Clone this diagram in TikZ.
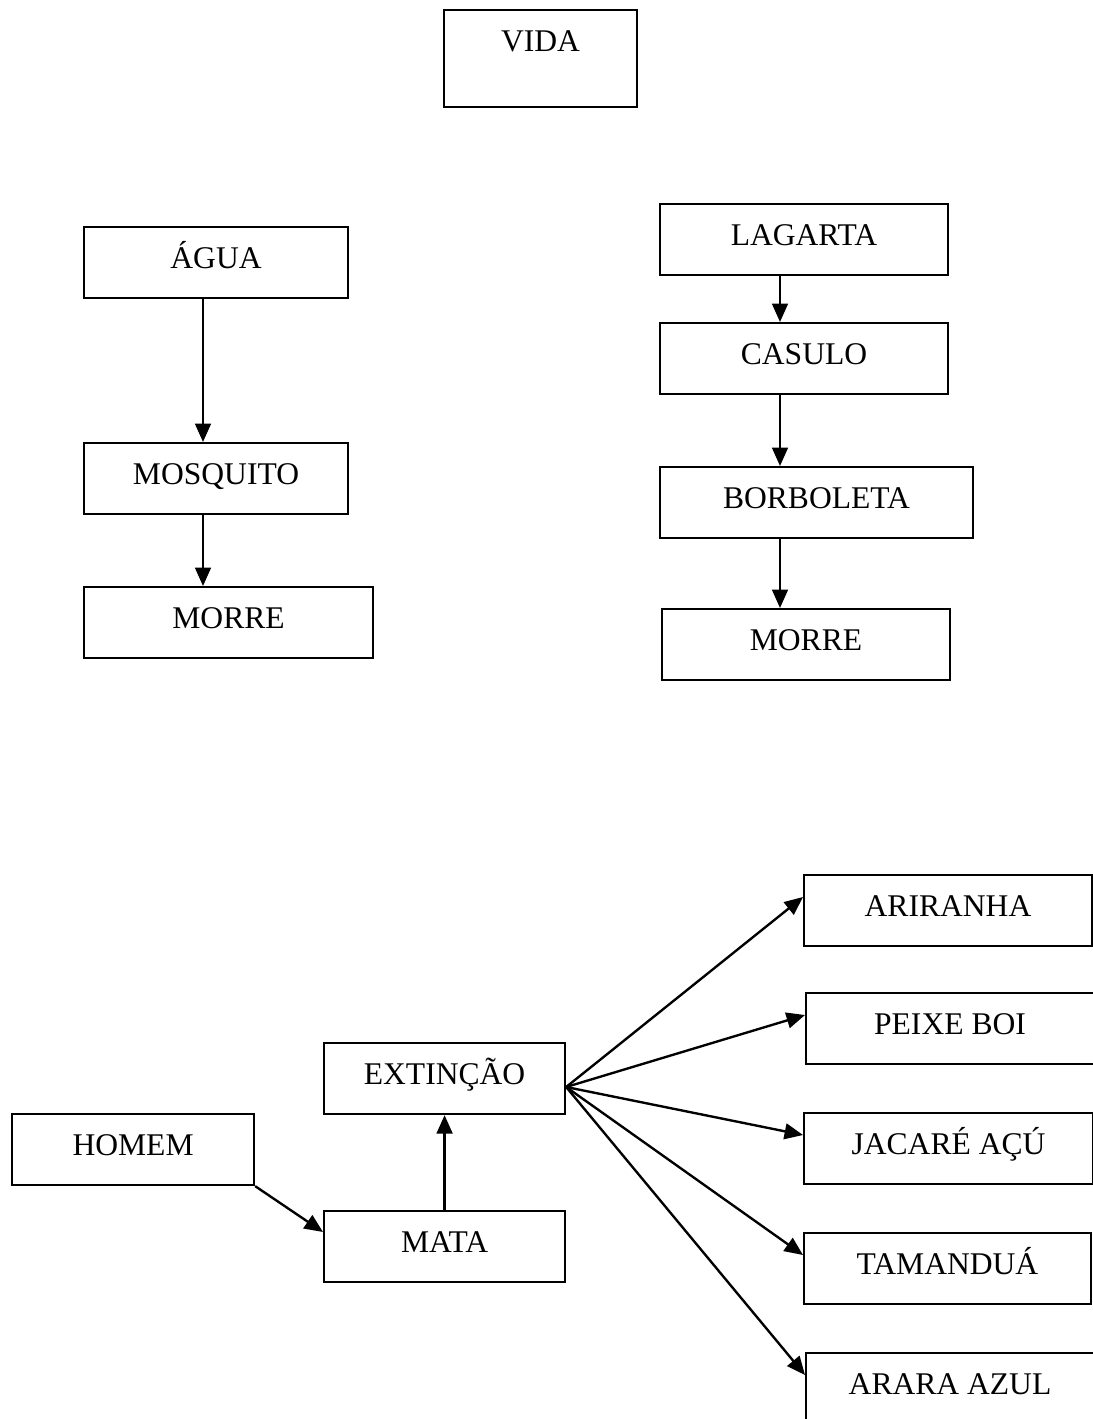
\documentclass[tikz,border=0pt]{standalone}
\usepackage{fontspec}
\setmainfont{Liberation Serif}
\usetikzlibrary{arrows.meta,calc}
\begin{document}
\begin{tikzpicture}[x=0.38pt,y=-0.38pt,
    caixa/.style={draw,line width=0.8pt,anchor=north west,inner sep=0pt,
      text height=15.6pt,text depth=11.4pt,font=\fontsize{12}{14}\selectfont},
    seta/.style={-{Triangle[length=7pt,width=6pt]},line width=0.9pt}]
\clip (0,0) rectangle (1093,1419);
% topo
\node[caixa,minimum width=73.3pt,text depth=21.3pt] (vida) at (443,9) {VIDA};
% mosquito
\node[caixa,minimum width=100.3pt] (agua) at (83,226) {ÁGUA};
\node[caixa,minimum width=100.3pt] (mosquito) at (83,442) {MOSQUITO};
\node[caixa,minimum width=109.8pt] (morreA) at (83,586) {MORRE};
% borboleta
\node[caixa,minimum width=109.4pt] (lagarta) at (659,203) {LAGARTA};
\node[caixa,minimum width=109.4pt] (casulo) at (659,322) {CASULO};
\node[caixa,minimum width=118.9pt] (borboleta) at (659,466) {BORBOLETA};
\node[caixa,minimum width=109.4pt] (morreB) at (661,608) {MORRE};
% extincao
\node[caixa,minimum width=92pt] (homem) at (11,1113) {HOMEM};
\node[caixa,minimum width=91.6pt] (extincao) at (323,1042) {EXTINÇÃO};
\node[caixa,minimum width=91.6pt] (mata) at (323,1210) {MATA};
\node[caixa,minimum width=109.4pt] (ariranha) at (803,874) {ARIRANHA};
\node[caixa,minimum width=109.4pt] (peixe) at (805,992) {PEIXE BOI};
\node[caixa,minimum width=109.8pt] (jacare) at (803,1112) {JACARÉ AÇÚ};
\node[caixa,minimum width=109pt] (tamandua) at (803,1232) {TAMANDUÁ};
\node[caixa,minimum width=109.4pt] (arara) at (805,1352) {ARARA AZUL};
% setas
\coordinate (colA) at (203,0);
\coordinate (colB) at (780,0);
\draw[seta] (agua.south -| colA) -- (mosquito.north -| colA);
\draw[seta] (mosquito.south -| colA) -- (morreA.north -| colA);
\draw[seta] (lagarta.south -| colB) -- (casulo.north -| colB);
\draw[seta] (casulo.south -| colB) -- (borboleta.north -| colB);
\draw[seta] (borboleta.south -| colB) -- (morreB.north -| colB);
\draw[seta] (homem.south east) -- ($(mata.north west)+(0,22)$);
\draw[seta] (mata.north) -- (extincao.south);
\coordinate (leque) at ($(extincao.north east)+(0,45)$);
\foreach \alvo in {ariranha,peixe,jacare,tamandua,arara}
  \draw[seta] (leque) -- ($(\alvo.north west)+(0,23)$);
\end{tikzpicture}
\end{document}
